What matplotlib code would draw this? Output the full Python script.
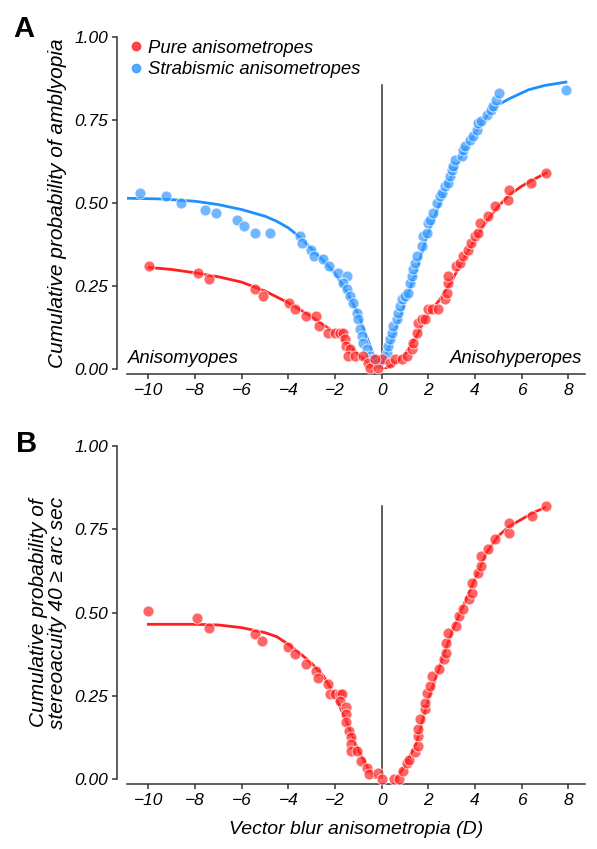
import matplotlib.pyplot as plt
from matplotlib.lines import Line2D

plt.rcParams['font.family'] = ['Liberation Sans', 'DejaVu Sans']

RED = '#ff2a2a'
BLUE = '#3a9bff'
RED_LINE = '#ff1f1f'
BLUE_LINE = '#1e8fff'

# panel A - pure anisometropes (points)
a_red_x = [-9.96, -7.87, -7.39, -5.41, -5.09, -3.98, -3.70, -3.23, -2.81, -2.70,
           -2.30, -1.99, -1.77, -1.65, -1.57, -1.52, -1.36, -1.42, -1.13, -0.79,
           -0.57, -0.50, -0.15, 0.0, -0.30,
           0.36, 0.57, 0.86, 1.07, 1.29, 1.36, 1.50, 1.57, 1.72, 1.86,
           2.00, 2.14, 2.43, 2.71, 2.79, 2.86, 2.86, 3.21, 3.35, 3.50,
           3.71, 3.85, 4.00, 4.14, 4.21, 4.56, 4.85, 5.42, 5.46, 6.41, 7.06]
a_red_y = [0.31, 0.29, 0.27, 0.24, 0.22, 0.20, 0.18, 0.16, 0.16, 0.13,
           0.11, 0.11, 0.11, 0.11, 0.09, 0.07, 0.06, 0.04, 0.04, 0.04,
           0.02, 0.005, 0.005, 0.03, 0.03,
           0.02, 0.03, 0.03, 0.04, 0.06, 0.08, 0.11, 0.14, 0.15, 0.15,
           0.18, 0.18, 0.18, 0.21, 0.23, 0.26, 0.28, 0.31, 0.32, 0.34,
           0.36, 0.38, 0.40, 0.41, 0.44, 0.46, 0.49, 0.51, 0.54, 0.56, 0.59]

# panel A - strabismic anisometropes (points)
a_blue_x = [-10.36, -9.25, -8.58, -7.59, -7.09, -6.22, -5.88, -5.41, -4.79, -3.51,
            -3.43, -3.03, -2.91, -2.50, -2.27, -1.86, -1.50, -1.65, -1.50, -1.36,
            -1.22, -1.07, -1.00, -0.93, -0.86, -0.79, -0.64, -0.50, -0.36, -0.15,
            0.07, 0.21, 0.29, 0.36, 0.43, 0.50, 0.64, 0.71, 0.79, 0.86,
            1.00, 1.14, 1.21, 1.29, 1.36, 1.43, 1.50, 1.72, 1.79, 1.93,
            2.00, 2.07, 2.21, 2.36, 2.50, 2.57, 2.71, 2.86, 2.93, 3.00,
            3.07, 3.14, 3.43, 3.50, 3.57, 3.78, 3.92, 4.07, 4.14, 4.28,
            4.50, 4.71, 4.78, 4.92, 5.04, 7.91]
a_blue_y = [0.53, 0.52, 0.50, 0.48, 0.47, 0.45, 0.43, 0.41, 0.41, 0.40,
            0.38, 0.36, 0.34, 0.33, 0.31, 0.29, 0.28, 0.26, 0.24, 0.22,
            0.20, 0.17, 0.15, 0.12, 0.10, 0.08, 0.06, 0.04, 0.03, 0.02,
            0.03, 0.05, 0.07, 0.09, 0.11, 0.13, 0.15, 0.17, 0.19, 0.21,
            0.22, 0.23, 0.26, 0.28, 0.30, 0.32, 0.34, 0.37, 0.40, 0.41,
            0.44, 0.45, 0.47, 0.50, 0.52, 0.53, 0.55, 0.56, 0.58, 0.60,
            0.61, 0.63, 0.64, 0.66, 0.67, 0.69, 0.70, 0.72, 0.74, 0.745,
            0.765, 0.78, 0.79, 0.81, 0.83, 0.84]

# panel A fitted curves
a_red_fit_x = [-9.96, -9.0, -8.0, -7.0, -6.0, -5.0, -4.0, -3.0, -2.0, -1.5, -1.0, -0.5, -0.15,
               0.1, 0.5, 1.0, 1.5, 2.0, 2.5, 3.0, 3.5, 4.0, 4.5, 5.0, 5.5, 6.0, 6.5, 7.06]
a_red_fit_y = [0.306, 0.300, 0.290, 0.278, 0.262, 0.235, 0.200, 0.158, 0.110, 0.080, 0.045, 0.015, 0.0,
               0.0, 0.015, 0.045, 0.10, 0.165, 0.21, 0.265, 0.33, 0.39, 0.445, 0.49,
               0.525, 0.55, 0.57, 0.59]
a_blue_fit_x = [-10.9, -9.5, -8.0, -7.0, -6.0, -5.0, -4.5, -4.0, -3.5, -3.0, -2.5, -2.0, -1.5,
                -1.0, -0.6, -0.3, 0.0, 0.5, 1.0, 1.5, 2.0, 2.5, 3.0, 3.5, 4.0, 4.5, 5.0,
                5.5, 6.3, 7.0, 7.9]
a_blue_fit_y = [0.514, 0.512, 0.505, 0.495, 0.480, 0.460, 0.445, 0.425, 0.397, 0.362, 0.327,
                0.288, 0.235, 0.165, 0.09, 0.035, 0.01, 0.10, 0.20, 0.30, 0.41, 0.50, 0.58,
                0.65, 0.71, 0.76, 0.795, 0.814, 0.84, 0.853, 0.863]

# panel B - stereoacuity (points)
b_x = [-10.0, -7.90, -7.42, -5.43, -5.12, -4.00, -3.72, -3.24, -2.83, -2.72,
       -2.29, -2.20, -2.00, -1.79, -1.71, -1.79, -1.53, -1.53, -1.53, -1.39,
       -1.33, -1.33, -1.33, -1.07, -0.90, -0.64, -0.53, -0.15, 0.0,
       0.53, 0.75, 0.93, 1.07, 1.18, 1.43, 1.57, 1.57, 1.57, 1.64,
       1.86, 1.86, 1.96, 2.07, 2.14, 2.47, 2.67, 2.76, 2.76, 2.86,
       3.17, 3.33, 3.47, 3.76, 3.86, 3.86, 4.14, 4.26, 4.26, 4.54,
       4.86, 5.47, 5.47, 6.46, 7.04]
b_y = [0.505, 0.485, 0.455, 0.435, 0.415, 0.396, 0.375, 0.345, 0.325, 0.305,
       0.286, 0.256, 0.256, 0.256, 0.256, 0.236, 0.216, 0.196, 0.173, 0.146,
       0.126, 0.106, 0.086, 0.086, 0.056, 0.033, 0.015, 0.018, 0.0,
       0.0, 0.0, 0.026, 0.05, 0.058, 0.083, 0.10, 0.13, 0.15, 0.18,
       0.21, 0.23, 0.26, 0.28, 0.31, 0.33, 0.36, 0.38, 0.41, 0.44,
       0.46, 0.49, 0.51, 0.54, 0.56, 0.59, 0.62, 0.64, 0.67, 0.69,
       0.72, 0.74, 0.77, 0.79, 0.82]

# panel B fitted curve (two branches)
b_fit_left_x = [-10.0, -8.0, -7.0, -6.0, -5.0, -4.5, -4.0, -3.5, -3.0, -2.5, -2.0, -1.5,
                -1.0, -0.6, -0.21]
b_fit_left_y = [0.465, 0.465, 0.463, 0.455, 0.440, 0.428, 0.405, 0.378, 0.348, 0.310,
                0.252, 0.172, 0.088, 0.035, 0.0]
b_fit_right_x = [0.6, 1.0, 1.5, 2.0, 2.5, 3.0, 3.5, 4.0, 4.5, 5.0, 5.5, 6.0, 6.5, 7.0]
b_fit_right_y = [0.0, 0.04, 0.11, 0.24, 0.34, 0.44, 0.52, 0.60, 0.68, 0.73, 0.76, 0.78, 0.80, 0.815]

x_ticks = [-10, -8, -6, -4, -2, 0, 2, 4, 6, 8]
y_ticks = [0.0, 0.25, 0.5, 0.75, 1.0]


def style_axis(ax):
    ax.set_xlim(-10.93, 8.72)
    ax.set_ylim(0, 1.0)
    for s in ['top', 'right']:
        ax.spines[s].set_visible(False)
    ax.spines['left'].set_position(('outward', 7))
    ax.spines['bottom'].set_position(('outward', 3.5))
    ax.spines['left'].set_bounds(0, 1)
    for s in ['left', 'bottom']:
        ax.spines[s].set_linewidth(1.1)
        ax.spines[s].set_color('#333333')
    ax.set_xticks(x_ticks)
    ax.set_yticks(y_ticks)
    ax.set_yticklabels(['%.2f' % v for v in y_ticks])
    ax.tick_params(length=3.5, width=1.1, color='#333333', labelsize=12.5, pad=3)
    for lab in ax.get_xticklabels() + ax.get_yticklabels():
        lab.set_fontstyle('italic')


def dots(ax, x, y, color):
    ax.scatter(x, y, s=62, color=color, alpha=0.72, edgecolors='white',
               linewidths=0.7, zorder=3, clip_on=False)


fig = plt.figure(figsize=(5.97, 8.49), dpi=100)
axA = fig.add_axes([0.2122, 0.565, 0.7677, 0.392])
axB = fig.add_axes([0.2122, 0.0821, 0.7677, 0.3926])

# panel A
axA.plot([0, 0], [0, 0.855], color='#333333', lw=1.1, zorder=1)
axA.plot(a_blue_fit_x, a_blue_fit_y, color=BLUE_LINE, lw=2.0, zorder=2)
axA.plot(a_red_fit_x, a_red_fit_y, color=RED_LINE, lw=2.0, zorder=2)
dots(axA, a_blue_x, a_blue_y, BLUE)
dots(axA, a_red_x, a_red_y, RED)
style_axis(axA)
axA.set_ylabel('Cumulative probability of amblyopia', fontsize=15, style='italic', labelpad=5)
axA.text(-10.87, 0.02, 'Anisomyopes', fontsize=13.3, style='italic')
axA.text(8.62, 0.02, 'Anisohyperopes', fontsize=13.3, style='italic', ha='right')
handles = [Line2D([], [], ls='none', marker='o', ms=6, color=RED, alpha=0.85),
           Line2D([], [], ls='none', marker='o', ms=6, color=BLUE, alpha=0.85)]
leg = axA.legend(handles, ['Pure anisometropes', 'Strabismic anisometropes'],
                 loc='upper left', bbox_to_anchor=(-0.04, 1.04), frameon=False,
                 handletextpad=0.05, handlelength=1.2, labelspacing=0.25,
                 prop={'size': 13.3, 'style': 'italic'})

# panel B
axB.plot([0, 0], [0, 0.82], color='#333333', lw=1.1, zorder=1)
axB.plot(b_fit_left_x, b_fit_left_y, color=RED_LINE, lw=2.0, zorder=2)
axB.plot(b_fit_right_x, b_fit_right_y, color=RED_LINE, lw=2.0, zorder=2)
dots(axB, b_x, b_y, RED)
style_axis(axB)
axB.set_ylabel('Cumulative probability of\nstereoacuity 40 \u2265 arc sec', fontsize=15,
               style='italic', labelpad=5, linespacing=1.0)
axB.set_xlabel('Vector blur anisometropia (D)', fontsize=14, style='italic', labelpad=9)

fig.text(0.023, 0.982, 'A', fontsize=21, fontweight='bold', va='top')
fig.text(0.027, 0.494, 'B', fontsize=21, fontweight='bold', va='top')

fig.savefig('out.png', dpi=100)
